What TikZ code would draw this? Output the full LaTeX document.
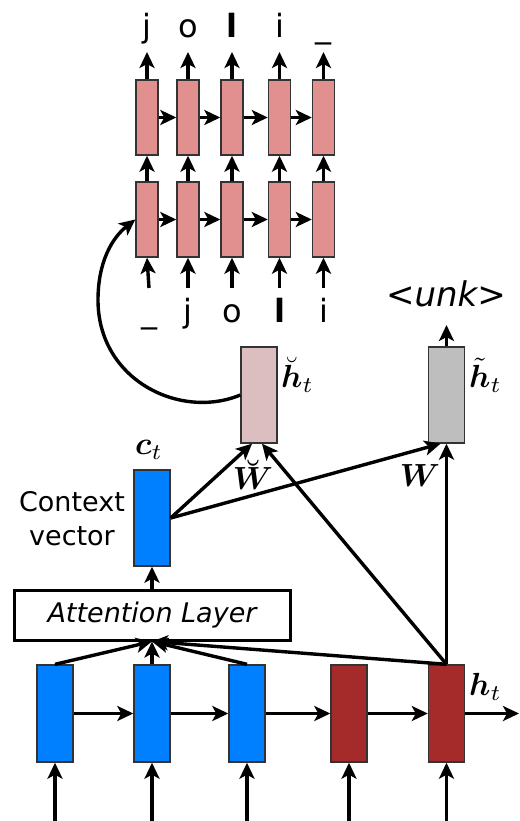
\documentclass[tikz,border=0pt]{standalone}
\usepackage{amsmath}
\usepackage{fontspec}
\setmainfont{DejaVu Sans}
\usetikzlibrary{arrows.meta}
\definecolor{decpink}{RGB}{226,143,143}
\definecolor{brevepink}{RGB}{220,190,192}
\definecolor{outgray}{RGB}{190,190,190}
\definecolor{encblue}{RGB}{0,128,255}
\definecolor{encred}{RGB}{165,42,42}
\newcommand{\bigmath}[1]{\scalebox{3.2}{$#1$}}
\tikzset{
  decbox/.style={draw=black!80, line width=1.4pt, fill=decpink, minimum width=22pt, minimum height=75pt, inner sep=0pt},
  bigbox/.style={draw=black!80, line width=1.4pt, minimum width=36pt, minimum height=96pt, inner sep=0pt},
  arr/.style={line width=3.4pt, -{Stealth[length=16pt, width=15pt, inset=4pt]}},
  letter/.style={font=\fontsize{32}{36}\selectfont, anchor=base, inner sep=0pt},
  txt/.style={font=\fontsize{27}{34}\selectfont, inner sep=0pt},
  mathlbl/.style={inner sep=0pt}
}
\begin{document}
\begin{tikzpicture}[x=1pt, y=-1pt]
\useasboundingbox (0,0) rectangle (519,821);
% decoder rows
\foreach \i/\x in {1/147,2/188,3/232,4/279.5,5/323.5}{
  \node[decbox] (t\i) at (\x,117.5) {};
  \node[decbox] (b\i) at (\x,219.5) {};
  \coordinate (to\i) at (\x,52);
}
\coordinate (bi1) at (149,288);
\foreach \i/\x in {2/188,3/232,4/279.5,5/323.5}{ \coordinate (bi\i) at (\x,288); }
% top labels
\node[letter] (tl1) at (147,38) {j};
\node[letter] (tl2) at (188,38) {o};
\node[letter] (tl3) at (232,38) {\textbf{l}};
\node[letter] (tl4) at (279.5,38) {i};
\node[letter] (tl5) at (323.5,38) {\_};
% bottom labels
\node[letter] (bl1) at (149,322) {\_};
\node[letter] (bl2) at (188,322) {j};
\node[letter] (bl3) at (232,322) {o};
\node[letter] (bl4) at (279.5,322) {\textbf{l}};
\node[letter] (bl5) at (323.5,322) {i};
\foreach \i in {1,...,5}{
  \draw[arr] (t\i.north) -- (to\i);
  \draw[arr] (b\i.north) -- (t\i.south);
  \draw[arr] (bi\i) -- (b\i.south);
}
\foreach \i/\j in {1/2,2/3,3/4,4/5}{
  \draw[arr] (t\i.east) -- (t\j.west);
  \draw[arr] (b\i.east) -- (b\j.west);
}
% middle boxes
\node[bigbox, fill=brevepink] (hb) at (259,395) {};
\node[bigbox, fill=outgray] (ht) at (446.5,395) {};
\node[bigbox, fill=encblue] (ctx) at (152,518) {};
\node[mathlbl, anchor=west] (hbl) at (281,375) {\bigmath{\breve{\boldsymbol{h}}_t}};
\node[mathlbl, anchor=west] (htl) at (469,375) {\bigmath{\tilde{\boldsymbol{h}}_t}};
\node[mathlbl] (ctl) at (149,450) {\bigmath{\boldsymbol{c}_t}};
\node[txt, align=center] (ctxlbl) at (72,519) {Context\\vector};
\node[font=\fontsize{34}{40}\selectfont\itshape, inner sep=0pt, anchor=base] (unk) at (446,306) {<unk>};
\coordinate (unkin) at (446.5,325);
\draw[arr] (ht.north) -- (unkin);
% curve
\draw[arr] (hb.west) .. controls (180,420) and (98,380) .. (98,300) .. controls (98,262) and (112,238) .. (b1.west);
% attention layer
\node[draw, line width=3pt, minimum width=276pt, minimum height=50pt, inner sep=0pt, font=\fontsize{27}{32}\selectfont\itshape] (att) at (152,615) {Attention Layer};
% encoder
\foreach \i/\x/\c in {1/55/encblue,2/152/encblue,3/247/encblue,4/349/encred,5/446.5/encred}{
  \node[bigbox, fill=\c, minimum height=97pt] (e\i) at (\x,713.5) {};
  \coordinate (ein\i) at (\x,821);
  \draw[arr] (ein\i) -- (e\i.south);
}
\foreach \i/\j in {1/2,2/3,3/4,4/5}{ \draw[arr] (e\i.east) -- (e\j.west); }
\coordinate (eout) at (519,713.5);
\draw[arr] (e5.east) -- (eout);
\node[mathlbl, anchor=west] (htlab) at (469,687) {\bigmath{\boldsymbol{h}_t}};
% attention arrows
\foreach \i in {1,2,3,5}{ \draw[arr] (e\i.north) -- (att.south); }
\draw[arr] (att.north) -- (ctx.south);
% combination arrows
\draw[arr] (ctx.east) -- ([xshift=-7pt]hb.south);
\draw[arr] (ctx.east) -- ([xshift=-6pt]ht.south);
\draw[arr] (e5.north) -- ([xshift=3pt]hb.south);
\draw[arr] (e5.north) -- (ht.south);
\node[mathlbl] (wb) at (253,475) {\bigmath{\boldsymbol{\breve{W}}}};
\node[mathlbl] (wl) at (420,476) {\bigmath{\boldsymbol{W}}};
\end{tikzpicture}
\end{document}
